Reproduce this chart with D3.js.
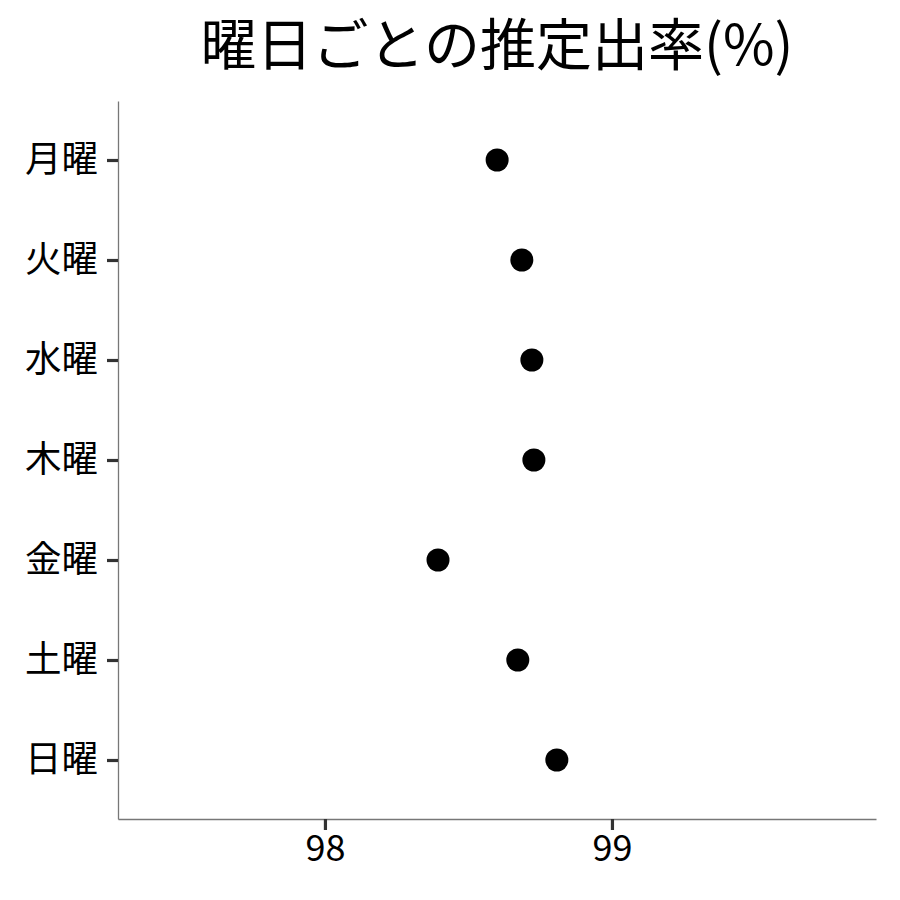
<!DOCTYPE html>
<html>
<head>
<meta charset="utf-8">
<script src="https://cdn.jsdelivr.net/npm/d3@7"></script>
<style>
  body { margin: 0; background: #fff; }
  text { font-family: "Noto Sans CJK JP", sans-serif; }
</style>
</head>
<body>
<div id="chart"></div>
<script>
// chart data
var days = ["月曜", "火曜", "水曜", "木曜", "金曜", "土曜", "日曜"];
var rates = [98.60, 98.686, 98.721, 98.728, 98.394, 98.672, 98.808];
var xTicks = [98, 99];
var title = "曜日ごとの推定出率(%)";

var width = 900, height = 900;
var margin = { top: 101, right: 24, bottom: 81, left: 118 };

var svg = d3.select("#chart").append("svg")
  .attr("width", width)
  .attr("height", height);

var x = d3.scaleLinear()
  .domain([97.279, 99.92])
  .range([margin.left, width - margin.right]);

var y = d3.scalePoint()
  .domain(days)
  .range([margin.top, height - margin.bottom])
  .padding(0.59);

// title
svg.append("text")
  .attr("x", (margin.left + width - margin.right) / 2)
  .attr("y", 65)
  .attr("text-anchor", "middle")
  .attr("font-size", 56)
  .attr("fill", "#000")
  .text(title);

// x axis
var xAxis = svg.append("g")
  .attr("transform", "translate(0," + (height - margin.bottom) + ")")
  .call(d3.axisBottom(x).tickValues(xTicks).tickFormat(d3.format("d"))
    .tickSize(11).tickPadding(5).tickSizeOuter(0));
xAxis.select(".domain").attr("stroke", "#777").attr("stroke-width", 1.3);
xAxis.selectAll(".tick line").attr("stroke", "#333").attr("stroke-width", 3.2);
xAxis.selectAll(".tick text").attr("font-size", 36).attr("fill", "#000")
  .attr("font-family", "'Noto Sans CJK JP', sans-serif");

// y axis
var yAxis = svg.append("g")
  .attr("transform", "translate(" + margin.left + ",0)")
  .call(d3.axisLeft(y).tickSize(11).tickPadding(9).tickSizeOuter(0));
yAxis.select(".domain").attr("stroke", "#777").attr("stroke-width", 1.3);
yAxis.selectAll(".tick line").attr("stroke", "#333").attr("stroke-width", 3.2);
yAxis.selectAll(".tick text").attr("font-size", 36.5).attr("fill", "#000")
  .attr("font-family", "'Noto Sans CJK JP', sans-serif");

// points
svg.selectAll("circle.pt")
  .data(days)
  .enter()
  .append("circle")
  .attr("class", "pt")
  .attr("cx", (d, i) => x(rates[i]))
  .attr("cy", (d) => y(d))
  .attr("r", 11.5)
  .attr("fill", "#000");
</script>
</body>
</html>
